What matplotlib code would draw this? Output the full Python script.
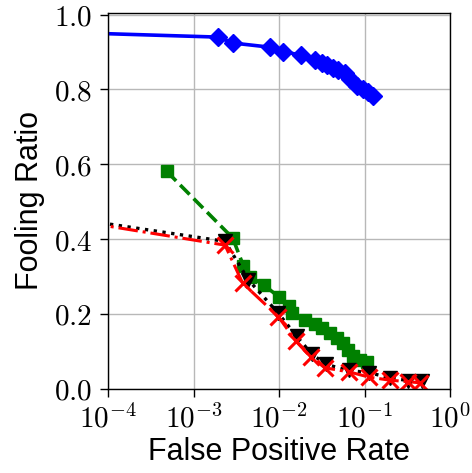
import numpy as np
import matplotlib
matplotlib.use("Agg")
import matplotlib.pyplot as plt

plt.rcParams['mathtext.fontset'] = 'cm'
plt.rcParams['font.family'] = 'Liberation Sans'

# fooling ratio vs. false positive rate, one curve per detector
fpr_blue = [1e-5, 1.92e-3, 2.92e-3, 7.85e-3, 0.011, 0.0182, 0.0264, 0.0316, 0.0361,
            0.0432, 0.0494, 0.0592, 0.0676, 0.081, 0.0969, 0.111, 0.125]
fr_blue = [0.956, 0.940, 0.924, 0.913, 0.901, 0.892, 0.880, 0.871, 0.866,
           0.858, 0.851, 0.845, 0.827, 0.809, 0.801, 0.792, 0.783]

fpr_green = [4.85e-4, 2.87e-3, 3.82e-3, 4.58e-3, 6.68e-3, 0.010, 0.0129, 0.0141, 0.0201,
             0.0264, 0.0316, 0.0394, 0.0473, 0.0565, 0.0646, 0.0739, 0.0885, 0.106]
fr_green = [0.581, 0.403, 0.329, 0.300, 0.277, 0.245, 0.220, 0.202, 0.184,
            0.173, 0.162, 0.149, 0.136, 0.122, 0.105, 0.087, 0.078, 0.072]

fpr_black = [1e-5, 2.33e-3, 4.38e-3, 9.8e-3, 0.0161, 0.0241, 0.0355, 0.0664, 0.114,
             0.199, 0.325, 0.466]
fr_black = [0.475, 0.394, 0.291, 0.202, 0.140, 0.093, 0.065, 0.049, 0.043,
            0.029, 0.022, 0.020]

fpr_red = [1e-5, 2.33e-3, 3.76e-3, 9.8e-3, 0.0158, 0.0237, 0.0345, 0.0664, 0.114,
           0.199, 0.325, 0.446]
fr_red = [0.472, 0.384, 0.282, 0.193, 0.127, 0.084, 0.056, 0.045, 0.031,
          0.023, 0.019, 0.016]

x_ticks = [1e-4, 1e-3, 1e-2, 1e-1, 1e0]
x_ticklabels = [r'$10^{-4}$', r'$10^{-3}$', r'$10^{-2}$', r'$10^{-1}$', r'$10^{0}$']
y_ticks = [0.0, 0.2, 0.4, 0.6, 0.8, 1.0]

fig = plt.figure(figsize=(4.72, 4.73), dpi=100)
ax = fig.add_axes([0.229, 0.178, 0.7245, 0.795])

ax.plot(fpr_blue, fr_blue, color='blue', linestyle='-', linewidth=2.6,
        marker='D', markersize=9.5)
ax.plot(fpr_green, fr_green, color='green', linestyle='--', linewidth=2.6,
        marker='s', markersize=8)
ax.plot(fpr_black, fr_black, color='black', linestyle=':', linewidth=2.4,
        marker='v', markersize=10.5)
ax.plot(fpr_red, fr_red, color='red', linestyle='-.', linewidth=2.2,
        marker='x', markersize=11, markeredgewidth=2.2)

ax.set_xscale('log')
ax.set_xlim(1e-4, 1e0)
ax.set_ylim(0, 1.005)
ax.set_xticks(x_ticks)
ax.set_xticklabels(x_ticklabels)
ax.set_yticks(y_ticks)
ax.set_yticklabels([rf'${v:.1f}$' for v in y_ticks])

ax.grid(True, which='major', color='#b8b8b8', linewidth=1.0)
ax.set_axisbelow(True)
ax.tick_params(axis='both', which='major', labelsize=21, length=5.5, width=1.0, pad=6)
ax.tick_params(axis='both', which='minor', length=2.8, width=0.9)
for s in ax.spines.values():
    s.set_linewidth(1.0)

ax.set_xlabel('False Positive Rate', fontsize=22, labelpad=2)
ax.set_ylabel('Fooling Ratio', fontsize=22, labelpad=6)

fig.savefig('out.png', dpi=100)
